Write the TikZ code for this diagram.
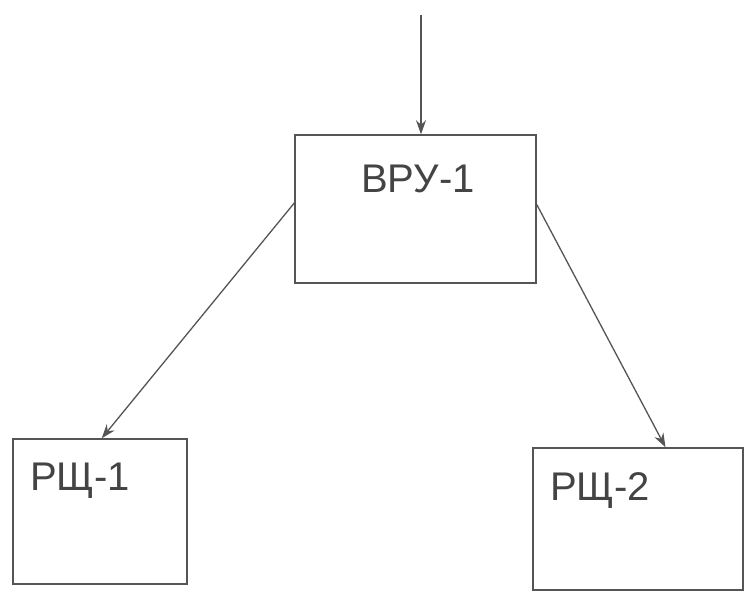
\documentclass[tikz,border=0pt]{standalone}
\usepackage{fontspec}
\setmainfont{Liberation Sans}
\usetikzlibrary{calc,arrows.meta}
\definecolor{ink}{HTML}{555555}
\definecolor{txt}{HTML}{444444}
\tikzset{
  boxnode/.style={draw=ink, line width=1.5pt, rectangle, inner sep=0pt},
  lbl/.style={text=txt, inner sep=0pt, font=\fontsize{40}{40}\selectfont},
  conn/.style={draw=ink, line width=1.3pt, -{Stealth[length=14pt,width=10pt]}}
}
\begin{document}
\begin{tikzpicture}[x=1pt,y=-1pt]
\useasboundingbox[fill=white] (0,0) rectangle (747,595);
\node[boxnode, minimum width=241pt, minimum height=148pt] (vru) at (415.5,209) {};
\node[boxnode, minimum width=174pt, minimum height=145pt] (r1) at (100,511.5) {};
\node[boxnode, minimum width=210pt, minimum height=142pt] (r2) at (638,519) {};
\node[lbl, anchor=base west] (tvru) at (361,192) {ВРУ-1};
\node[lbl, anchor=base west] (tr1) at (30,490) {РЩ-1};
\node[lbl, anchor=base west] (tr2) at (550,500) {РЩ-2};
\coordinate (src) at (421,15);
\draw[conn] (src) -- (src |- vru.north);
\draw[conn] ($(vru.north west)!0.46!(vru.south west)$) -- ($(r1.north west)!0.51!(r1.north east)$);
\draw[conn] ($(vru.north east)!0.47!(vru.south east)$) -- ($(r2.north west)!0.63!(r2.north east)$);
\end{tikzpicture}
\end{document}
